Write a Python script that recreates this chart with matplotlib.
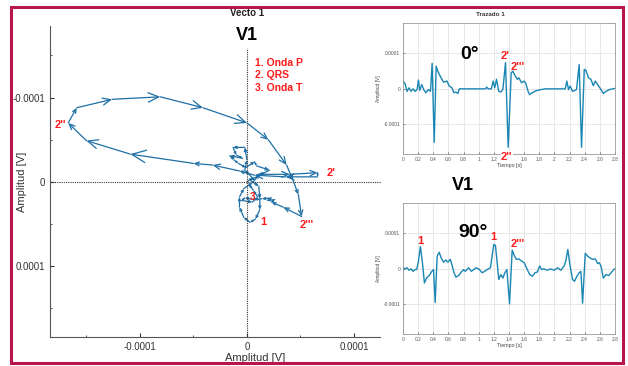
import numpy as np
import matplotlib.pyplot as plt
from matplotlib.patches import FancyArrowPatch, Rectangle
from matplotlib.ticker import AutoMinorLocator, MultipleLocator, FormatStrFormatter

plt.rcParams['font.family'] = ['Liberation Sans', 'DejaVu Sans']

# vectocardiogram loop in units of 1e-4 V (x = lead 0 deg, y = lead 90 deg)
loop_x = [0, 0.05, -0.02, 0, -0.02, -0.13, -0.10, -0.04, -0.16, -0.12, -0.08, -0.01, 0.07, 0.09, 0.21, 0.12, 0.03,
          0.11, 0.12, 0.12, 0.08, 0.03, -0.03, -0.07, -0.07, -0.03, 0.05,
          0.12, 0.40, 0.66, 0.66, 0.36, 0.07, -0.07, -0.32, -0.50, -1.09, -1.50, -1.67, -1.59, -1.26, -0.81,
          -0.41, 0, 0.20, 0.37, 0.43, 0.48, 0.51,
          0.34, 0.23, 0.26, 0.19, 0.23, 0.14, 0.07, -0.02, -0.05, 0.05, 0.10, 0.06, 0.02]
loop_y = [0, -0.05, -0.14, -0.26, -0.41, -0.41, -0.32, -0.28, -0.31, -0.26, -0.22, -0.17, -0.24, -0.19, -0.14, -0.08, -0.02,
          0.05, 0.20, 0.33, 0.44, 0.48, 0.42, 0.30, 0.18, 0.08, 0.01,
          -0.09, -0.09, -0.11, -0.06, -0.06, -0.08, -0.13, -0.20, -0.22, -0.33, -0.49, -0.70, -0.88, -0.98, -1.01,
          -0.88, -0.70, -0.50, -0.20, -0.02, 0.15, 0.41,
          0.30, 0.24, 0.21, 0.22, 0.19, 0.20, 0.21, 0.19, 0.22, 0.24, 0.18, 0.10, 0.03]

# lead 0 deg trace, time [s] and amplitude in 1e-4 V
t_0 = [0.000, 0.027, 0.053, 0.080, 0.106, 0.133, 0.159, 0.186, 0.204, 0.221, 0.248, 0.274, 0.301, 0.336, 0.363,
       0.385, 0.412, 0.438, 0.460, 0.491, 0.535, 0.580, 0.611, 0.646, 0.673, 0.699, 0.726, 0.743,
       1.088, 1.106, 1.124, 1.168, 1.190, 1.212, 1.235, 1.265, 1.292, 1.319,
       1.354, 1.389, 1.429, 1.451, 1.478, 1.509, 1.531, 1.566, 1.597, 1.619, 1.655, 1.673, 1.700, 1.750, 1.800, 1.880,
       2.142, 2.164, 2.186, 2.208, 2.239, 2.292,
       2.327, 2.358, 2.394, 2.416, 2.451, 2.482, 2.513, 2.540, 2.571, 2.615, 2.646, 2.681, 2.726, 2.792]
v_0 = [0.22, 0.15, -0.07, 0.03, -0.07, 0.00, -0.07, -0.02, 0.25, -0.04, 0.12, -0.02, -0.11, -0.02, -0.07,
       0.72, -1.51, 0.64, 0.50, 0.36, 0.19, 0.22, 0.08, 0.03, -0.11, -0.09, -0.13, 0.00,
       0.00, 0.05, 0.00, 0.00, 0.22, 0.03, 0.27, -0.07, -0.09, -0.02,
       0.74, -1.65, 0.45, 0.50, 0.38, 0.27, 0.31, 0.17, 0.22, 0.17, -0.09, -0.16, -0.12, -0.06, -0.03, 0.00,
       0.00, 0.22, -0.02, 0.08, -0.07, -0.02,
       0.69, -1.65, 0.55, 0.52, 0.31, 0.27, 0.09, 0.22, 0.12, -0.02, -0.13, -0.07, -0.02, 0.01]

# lead 90 deg trace
t_90 = [0.000, 0.027, 0.053, 0.080, 0.106, 0.133, 0.159, 0.181, 0.204, 0.230, 0.257, 0.283, 0.310, 0.345, 0.381,
        0.403, 0.425, 0.451, 0.478, 0.504, 0.535, 0.566, 0.593, 0.624, 0.646, 0.673, 0.699, 0.735, 0.770, 0.801,
        0.823, 0.867, 0.903, 0.934, 0.965, 1.000, 1.044, 1.080, 1.111, 1.155, 1.177, 1.199, 1.221, 1.248, 1.265,
        1.292, 1.319, 1.345, 1.372, 1.407, 1.442, 1.469, 1.496, 1.531, 1.566, 1.602, 1.637, 1.673, 1.708, 1.743,
        1.774, 1.805, 1.832, 1.863, 1.907, 1.951, 1.996, 2.040, 2.084, 2.128, 2.150, 2.177, 2.204, 2.239, 2.265,
        2.292, 2.327, 2.350, 2.372, 2.407, 2.438, 2.469, 2.504, 2.540, 2.571, 2.593, 2.615, 2.646, 2.681, 2.717,
        2.748, 2.792]
v_90 = [0.03, 0.00, 0.03, -0.04, 0.00, -0.07, -0.02, -0.02, 0.22, 0.63, 0.17, -0.40, -0.26, -0.19, -0.07,
        -0.02, -0.95, 0.36, 0.47, 0.31, 0.19, 0.25, 0.19, 0.27, 0.12, -0.11, -0.23, -0.19, -0.09, -0.02,
        -0.07, 0.03, -0.07, -0.02, 0.03, 0.00, -0.11, -0.07, -0.02, 0.03, 0.36, 0.69, 0.66, 0.08, -0.30,
        -0.16, -0.26, -0.11, -0.02, -0.99, 0.53, 0.38, 0.27, 0.28, 0.22, 0.17, 0.00, -0.16, -0.21, -0.11,
        -0.09, 0.08, -0.02, 0.00, -0.04, 0.00, -0.04, 0.03, -0.04, 0.08, 0.22, 0.55, 0.12, -0.30, -0.35,
        -0.23, -0.11, -0.07, -0.97, 0.44, 0.36, 0.31, 0.27, 0.28, 0.15, 0.17, 0.08, -0.26, -0.16, -0.19,
        -0.11, 0.00]

W, H = 628, 366
fig = plt.figure(figsize=(6.28, 3.66), dpi=100)


def fx(px):
    return px / W


def fy(py):
    return 1 - py / H


# ---- vectocardiogram ----
ax = fig.add_axes([fx(50), fy(337), fx(460) - fx(50), fy(26) - fy(337)])
ax.set_xlim(-1.84e-4, 1.99e-4)
ax.set_ylim(1.84e-4, -1.85e-4)
for s in ['top', 'right']:
    ax.spines[s].set_visible(False)
for s in ['left', 'bottom']:
    ax.spines[s].set_color('#555555')
    ax.spines[s].set_linewidth(0.8)
ax.set_xticks([-1e-4, 0, 1e-4])
ax.set_xticklabels(['-0.0001', '0', '0.0001'])
ax.set_yticks([-1e-4, 0, 1e-4])
ax.set_yticklabels(['-0.0001', '0', '0.0001'])
ax.xaxis.set_minor_locator(AutoMinorLocator(2))
ax.yaxis.set_minor_locator(AutoMinorLocator(2))
ax.tick_params(which='both', direction='in', labelsize=7, colors='#333333')
ax.tick_params(which='major', length=3)
ax.tick_params(which='minor', length=1.5)
ax.set_xlabel('Amplitud [V]', fontsize=8, color='#333333', labelpad=1)
ax.set_ylabel('Amplitud [V]', fontsize=8, color='#333333')
ax.yaxis.set_label_coords((27 - 50) / 410, 0.5)

ax.axhline(0, color='#333333', ls=(0, (1, 1)), lw=0.8)
ax.axvline(0, ymin=0, ymax=0.93, color='#333333', ls=(0, (1, 1)), lw=0.8)

lx = np.array(loop_x) * 1e-4
ly = np.array(loop_y) * 1e-4
pts = ax.transData.transform(np.column_stack([lx, ly]))
for i in range(len(lx) - 1):
    L = np.hypot(*(pts[i + 1] - pts[i]))
    if L < 0.5:
        continue
    ms = 0.352 * L
    arr = FancyArrowPatch((lx[i], ly[i]), (lx[i + 1], ly[i + 1]),
                          arrowstyle='->,head_length=0.45,head_width=0.2',
                          mutation_scale=ms, shrinkA=0, shrinkB=0,
                          color='#1f6fa5', lw=0.9)
    ax.add_patch(arr)

red = '#ff1a1a'
ax.text(-1.74e-4, -0.67e-4, "2''", color=red, fontsize=8, fontweight='bold', ha='center', va='center')
ax.text(0.79e-4, -0.11e-4, "2'", color=red, fontsize=8, fontweight='bold', ha='center', va='center')
ax.text(0.56e-4, 0.51e-4, "2'''", color=red, fontsize=8, fontweight='bold', ha='center', va='center')
ax.text(0.15e-4, 0.47e-4, "1", color=red, fontsize=8, fontweight='bold', ha='center', va='center')
ax.text(0.05e-4, 0.18e-4, "3", color=red, fontsize=7, fontweight='bold', ha='center', va='center')

fig.text(fx(247), fy(13), 'Vecto 1', ha='center', va='center', fontsize=7, fontweight='bold', color='#222222')
fig.text(fx(247), fy(36), 'V1', ha='center', va='center', fontsize=13, fontweight='bold')
for k, s in enumerate(['1. Onda P', '2. QRS', '3. Onda T']):
    fig.text(fx(255), fy(63 + 12.5 * k), s, ha='left', va='center', fontsize=7.5, fontweight='bold', color=red)

# white panel holding the two traces
fig.add_artist(Rectangle((fx(381), fy(361)), fx(621) - fx(381), fy(8) - fy(361),
                         transform=fig.transFigure, facecolor='white', edgecolor='none', zorder=1))


def ecg_axes(top, t, v):
    a = fig.add_axes([fx(403), fy(top + 131), fx(615) - fx(403), 131 / H])
    a.set_zorder(2)
    a.plot(t, np.array(v) * 1e-4, color='#1a86b4', lw=1.0)
    a.set_xlim(0, 2.8)
    a.set_ylim(-1.84e-4, 1.86e-4)
    a.xaxis.set_major_locator(MultipleLocator(0.2))
    a.xaxis.set_major_formatter(FormatStrFormatter('%g'))
    a.set_yticks([-1e-4, 0, 1e-4])
    a.set_yticklabels(['-0.0001', '0', '0.0001'])
    a.grid(True, color='#e4e4e4', lw=0.6)
    a.tick_params(direction='in', length=1.5, width=0.5, labelsize=3.5, colors='#555555', pad=2)
    for s in a.spines.values():
        s.set_color('#999999')
        s.set_linewidth(0.6)
    a.set_xlabel('Tiempo [s]', fontsize=3.8, color='#444444', labelpad=1)
    a.set_ylabel('Amplitud [V]', fontsize=3.5, color='#444444', labelpad=2)
    return a


a0 = ecg_axes(23, t_0, v_0)
fig.text(fx(490), fy(14), 'Trazado 1', ha='center', va='center', fontsize=4.5, fontweight='bold', color='#333333')
a0.text(0.885, 0.96e-4, '0°', fontsize=14, fontweight='bold', ha='center', va='center')
a0.text(1.347, 0.93e-4, "2'", color=red, fontsize=8, fontweight='bold', ha='center', va='center')
a0.text(1.52, 0.62e-4, "2'''", color=red, fontsize=8, fontweight='bold', ha='center', va='center')
a0.text(1.37, -1.92e-4, "2''", color=red, fontsize=8, fontweight='bold', ha='center', va='center', clip_on=False,
        bbox=dict(facecolor='white', edgecolor='none', pad=0.3), zorder=5)

a1 = ecg_axes(203, t_90, v_90)
fig.text(fx(463), fy(186), 'V1', ha='center', va='center', fontsize=13, fontweight='bold')
a1.text(0.925, 1.04e-4, '90°', fontsize=14, fontweight='bold', ha='center', va='center')
a1.text(0.225, 0.79e-4, "1", color=red, fontsize=8, fontweight='bold', ha='center', va='center')
a1.text(1.19, 0.90e-4, "1", color=red, fontsize=8, fontweight='bold', ha='center', va='center')
a1.text(1.52, 0.70e-4, "2'''", color=red, fontsize=8, fontweight='bold', ha='center', va='center')

# crimson frame
fig.add_artist(Rectangle((fx(10.5), fy(363)), fx(623) - fx(10.5), fy(6.5) - fy(363),
                         transform=fig.transFigure, fill=False, edgecolor='#b8164a', lw=2.2, zorder=5))

fig.savefig('out.png', dpi=100)
